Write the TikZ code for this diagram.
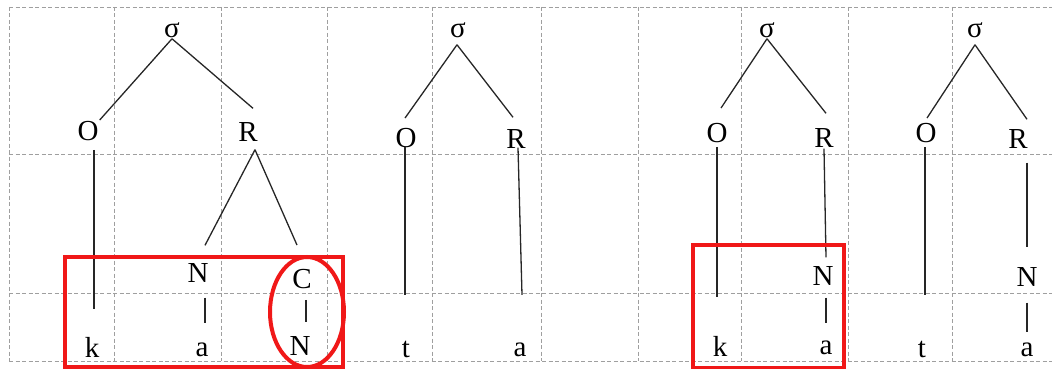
\documentclass[tikz,border=0pt]{standalone}
\usepackage{fontspec}
\setmainfont{Liberation Serif}
\usepackage{tikz}
\usetikzlibrary{calc}
\definecolor{hlred}{RGB}{240,24,24}
\tikzstyle{seg} = [inner sep=1pt, font=\fontsize{29}{32}\selectfont]
\tikzstyle{branch} = [line width=1.3pt, black!85]
\tikzstyle{gridline} = [gray!75, line width=0.9pt, dash pattern=on 4pt off 2.5pt]
\tikzstyle{hilite} = [hlred, line width=4pt]

\begin{document}
\begin{tikzpicture}[x=1pt, y=-1pt]
    \useasboundingbox (0,0) rectangle (1052,369);

    % grid
    \foreach \y in {7,154,293,361}
        \draw [gridline] (9,\y) -- (1052,\y);
    \foreach \x in {9,114,221,327,432,541,638,741,848,952}
        \draw [gridline] (\x,7) -- (\x,361);

    % first syllable, k a CN
    \node (s1) [seg] at (172,30) {σ};
    \node (o1) [seg] at (88,131) {O};
    \node (r1) [seg] at (248,132) {R};
    \node (n1) [seg] at (198,273) {N};
    \node (c1) [seg] at (302,279) {C};
    \node (k1) [seg] at (92,347) {k};
    \node (a1) [seg] at (202,350) {a};
    \node (n2) [seg] at (300,346) {N};

    \draw [branch] (s1.south) -- (o1.north east);
    \draw [branch] (s1.south) -- ($(r1.north) + (5,-13)$);
    \draw [branch] ($(o1.south) + (6,8)$) -- ($(k1.north) + (2,-27)$);
    \draw [branch] ($(r1.south) + (7,7)$) -- ($(n1.north) + (7,-17)$);
    \draw [branch] ($(r1.south) + (7,7)$) -- ($(c1.north) + (-5,-23)$);
    \draw [branch] ($(n1.south) + (7,14)$) -- ($(a1.north) + (3,-19)$);
    \draw [branch] ($(c1.south) + (4,10)$) -- ($(n2.north) + (6,-13)$);

    % second syllable, t a
    \node (s2) [seg] at (458,30) {σ};
    \node (o2) [seg] at (406,138) {O};
    \node (r2) [seg] at (516,139) {R};
    \node (t2) [seg] at (406,349) {t};
    \node (a2) [seg] at (520,350) {a};

    \draw [branch] ($(s2.south) + (-1,6)$) -- ($(o2.north) + (-1,-9)$);
    \draw [branch] ($(s2.south) + (-1,6)$) -- ($(r2.north) + (-3,-11)$);
    \draw [branch] ($(o2.south) + (-1,-2)$) -- ($(t2.north) + (-1,-44)$);
    \draw [branch] ($(r2.south) + (2,-2)$) -- ($(a2.north) + (2,-47)$);

    % third syllable, k a
    \node (s3) [seg] at (767,30) {σ};
    \node (o3) [seg] at (717,133) {O};
    \node (r3) [seg] at (824,138) {R};
    \node (n3) [seg] at (823,276) {N};
    \node (k3) [seg] at (720,346) {k};
    \node (a3) [seg] at (826,348) {a};

    \draw [branch] (s3.south) -- ($(o3.north) + (4,-14)$);
    \draw [branch] (s3.south) -- ($(r3.north) + (2,-14)$);
    \draw [branch] ($(o3.south) + (0,3)$) -- ($(k3.north) + (-3,-38)$);
    \draw [branch] (r3.south) -- ($(n3.north) + (3,-8)$);
    \draw [branch] ($(n3.south) + (3,11)$) -- ($(a3.north) + (0,-17)$);

    % fourth syllable, t a
    \node (s4) [seg] at (975,30) {σ};
    \node (o4) [seg] at (926,133) {O};
    \node (r4) [seg] at (1018,139) {R};
    \node (n4) [seg] at (1027,277) {N};
    \node (t4) [seg] at (922,349) {t};
    \node (a4) [seg] at (1027,350) {a};

    \draw [branch] ($(s4.south) + (0,6)$) -- ($(o4.north) + (1,-4)$);
    \draw [branch] ($(s4.south) + (0,6)$) -- ($(r4.north) + (9,-9)$);
    \draw [branch] ($(o4.south) + (-1,3)$) -- ($(t4.north) + (3,-44)$);
    \draw [branch] ($(r4.south) + (9,13)$) -- ($(n4.north) + (0,-19)$);
    \draw [branch] ($(n4.south) + (0,15)$) -- ($(a4.north) + (0,-10)$);

    % highlights
    \draw [hilite] (65,257) rectangle (343,367);
    \draw [hilite] (307,312) ellipse [x radius=37pt, y radius=55pt];
    \draw [hilite] (693,245) rectangle (844,368);
\end{tikzpicture}
\end{document}
